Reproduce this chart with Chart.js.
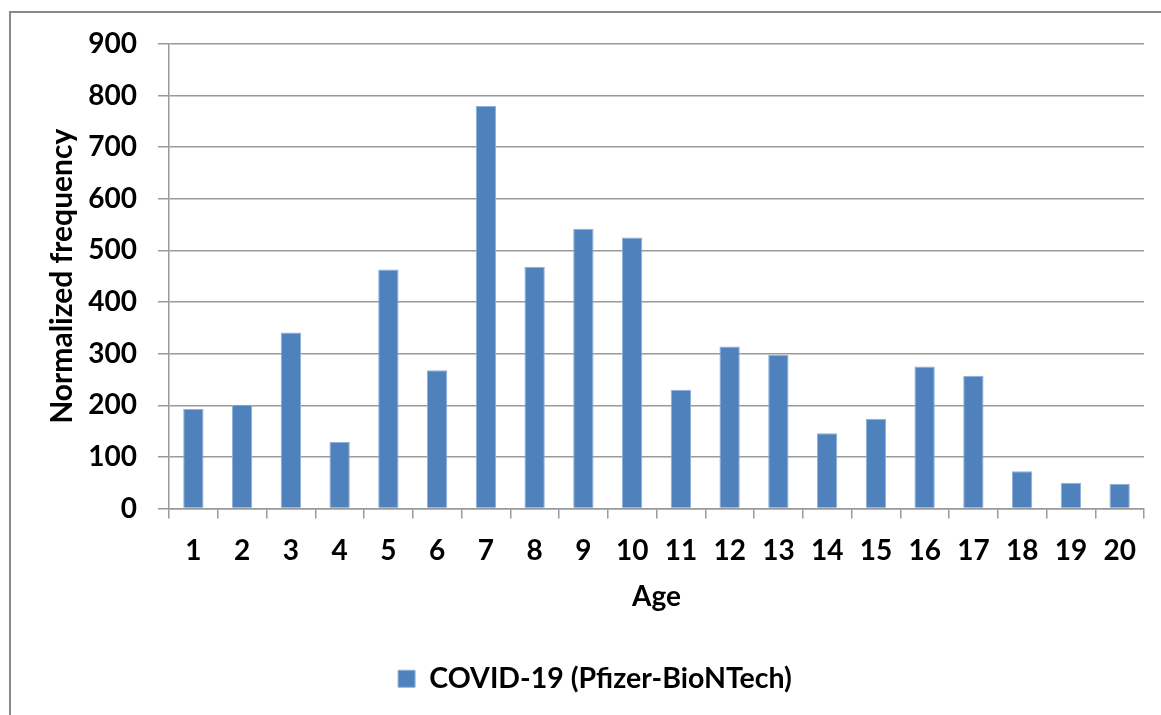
<!DOCTYPE html>
<html>
<head>
<meta charset="utf-8">
<script src="https://cdn.jsdelivr.net/npm/chart.js@4.4.1/dist/chart.umd.min.js"></script>
<style>
  html, body { margin: 0; padding: 0; background: #fff; overflow: hidden; }
  #wrap { position: absolute; left: 0; top: 0; width: 1161px; height: 715px; }
  #frame { position: absolute; left: 9px; top: 11px; width: 1200px; height: 800px;
           border-left: 2px solid #8a8a8a; border-top: 2px solid #8a8a8a; pointer-events: none; }
</style>
</head>
<body>
<div id="wrap">
  <canvas id="c" width="1161" height="715"></canvas>
  <div id="frame"></div>
</div>
<script>
// Age groups and normalized report frequency
const ages = ['1','2','3','4','5','6','7','8','9','10','11','12','13','14','15','16','17','18','19','20'];
const frequency = [193, 201, 341, 129, 463, 268, 780, 468, 542, 525, 230, 314, 298, 146, 174, 275, 257, 72, 50, 48];
const yTickValues = [0, 100, 200, 300, 400, 500, 600, 700, 800, 900];
const seriesName = 'COVID-19 (Pfizer-BioNTech)';

const barBlue = '#4f81bd';
const gridGray = '#9a9a9a';
const labelFont = { family: 'Lato', weight: 'bold', size: 28 };
const legendFont = { family: 'Lato', weight: 'bold', size: 28.5 };
const yTitleFont = { family: 'Lato', weight: 'bold', size: 30 };

const LEFT_PAD = 12;

// nudges the legend so it sits centred under the plot area
const legendShift = {
  id: 'legendShift',
  afterLayout(chart) {
    const lg = chart.legend;
    if (lg) { lg.left += 17; lg.right += 17; }
  }
};

new Chart(document.getElementById('c'), {
  type: 'bar',
  data: {
    labels: ages,
    datasets: [{
      label: seriesName,
      data: frequency,
      backgroundColor: barBlue,
      borderColor: '#8fb0da',
      borderWidth: 1,
      barPercentage: 0.417,
      categoryPercentage: 1.0
    }]
  },
  plugins: [legendShift],
  options: {
    responsive: false,
    animation: false,
    layout: { padding: { left: LEFT_PAD, right: 17, top: 44, bottom: 12 } },
    plugins: {
      tooltip: { enabled: false },
      legend: {
        position: 'bottom',
        labels: {
          font: legendFont,
          color: '#000',
          boxWidth: 17,
          boxHeight: 17,
          padding: 30
        }
      }
    },
    scales: {
      x: {
        offset: true,
        grid: {
          offset: true,
          drawOnChartArea: false,
          drawTicks: true,
          tickLength: 10,
          color: gridGray,
          lineWidth: 1.5
        },
        border: { display: true, color: gridGray, width: 1.5 },
        ticks: { font: labelFont, color: '#000', padding: 16, maxRotation: 0 },
        title: {
          display: true,
          text: 'Age',
          font: labelFont,
          color: '#000',
          padding: { top: 0, bottom: 21 }
        },
        afterFit: (s) => { s.height = 126; }
      },
      y: {
        min: 0,
        max: 900,
        afterBuildTicks: (s) => { s.ticks = yTickValues.map(v => ({ value: v })); },
        grid: {
          color: gridGray,
          lineWidth: 1.5,
          drawTicks: true,
          tickLength: 11
        },
        border: { display: true, color: gridGray, width: 1.5 },
        ticks: { font: labelFont, color: '#000', padding: 21 },
        title: {
          display: true,
          text: 'Normalized frequency',
          font: yTitleFont,
          color: '#000',
          padding: { top: 32, bottom: 0 }
        },
        afterFit: (s) => { s.width = 169 - LEFT_PAD; }
      }
    }
  }
});
</script>
</body>
</html>
